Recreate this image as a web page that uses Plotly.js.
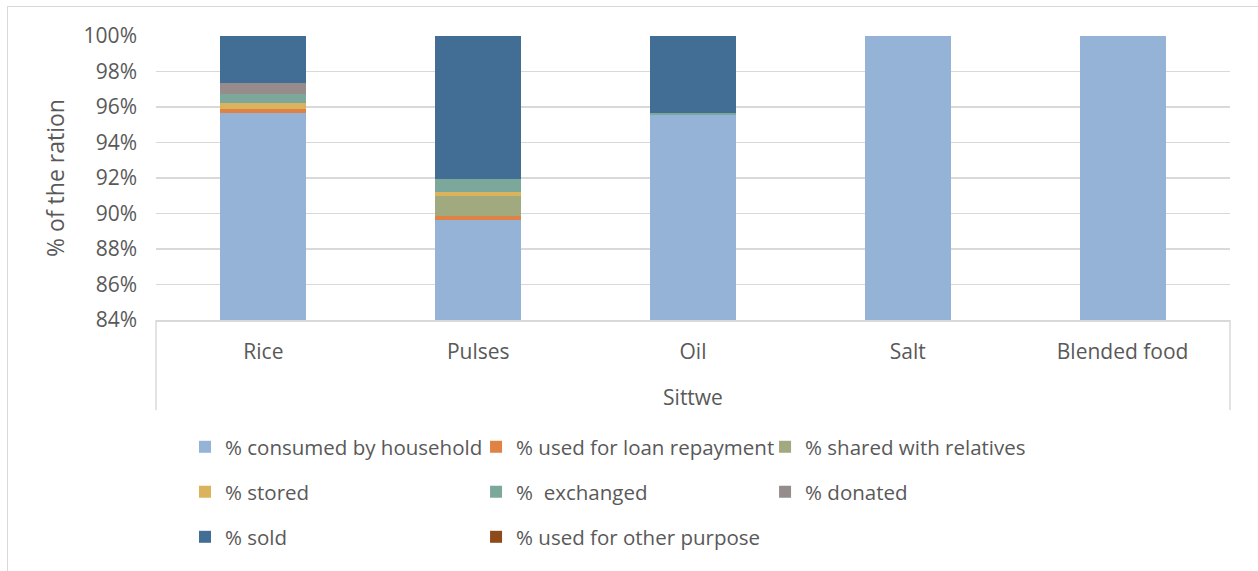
<!DOCTYPE html>
<html>
<head>
<meta charset="utf-8">
<script src="https://cdn.plot.ly/plotly-3.0.1.min.js"></script>
<style>
  html, body { margin: 0; padding: 0; background: #fff; }
  #frame { position: absolute; left: 7px; top: 6px; width: 1400px; height: 700px;
           border-left: 1.5px solid #d9d9d9; border-top: 1.5px solid #d9d9d9; pointer-events: none; }
  #chart { width: 1258px; height: 571px; }
</style>
</head>
<body>
<div id="chart"></div>
<div id="frame"></div>
<script>
// ---- data ----
const group = "Sittwe";
const categories = ["Rice", "Pulses", "Oil", "Salt", "Blended food"];

const seriesNames = [
  "% consumed by household",
  "% used for loan repayment",
  "% shared with relatives",
  "% stored",
  "%  exchanged",
  "% donated",
  "% sold",
  "% used for other purpose"
];

const consumed  = [95.68, 89.62, 95.53, 100, 100];
const loan      = [0.19, 0.24, 0, 0, 0];
const shared    = [0, 1.14, 0, 0, 0];
const stored    = [0.36, 0.21, 0, 0, 0];
const exchanged = [0.50, 0.73, 0.13, 0, 0];
const donated   = [0.61, 0, 0, 0, 0];
const sold      = [2.66, 8.06, 4.34, 0, 0];
const other     = [0, 0, 0, 0, 0];

const yTickVals = [84, 86, 88, 90, 92, 94, 96, 98, 100];

// ---- styles ----
const colors = ["#95B3D7", "#DF8244", "#A1A97F", "#DBB35C", "#7CA89C", "#968C8C", "#426E96", "#8E4A1B"];
const series = [consumed, loan, shared, stored, exchanged, donated, sold, other];

// legend grid: 3 columns x 3 rows, one legend per entry
const legendCols = [0.0270, 0.2980, 0.5671];
const legendRows = [-0.447, -0.605, -0.764];
const legendIds = series.map((_, i) => i === 0 ? "legend" : "legend" + (i + 1));

const traces = series.map((vals, i) => ({
  type: "bar",
  name: seriesNames[i],
  x: categories,
  y: vals,
  marker: { color: colors[i], line: { width: 0 } },
  legend: legendIds[i],
  hoverinfo: "name+y"
}));

const font = { family: "Open Sans, sans-serif", size: 21, color: "#595959" };
const legendFont = Object.assign({}, font, { size: 20.5 });
const lineColor = "#d9d9d9";

const layout = {
  width: 1258, height: 571,
  margin: { l: 156, r: 28, t: 36, b: 251 },
  paper_bgcolor: "#ffffff",
  plot_bgcolor: "#ffffff",
  font: font,
  barmode: "stack",
  bargap: 0.6,
  xaxis: {
    type: "category",
    showline: true, linecolor: lineColor, linewidth: 1.5,
    showgrid: false,
    tickfont: font,
    ticks: "",
    ticklabelstandoff: 12,
    title: { text: group, font: font, standoff: 26 }
  },
  yaxis: {
    range: [84, 100],
    tickvals: yTickVals,
    ticktext: yTickVals.map(v => v + "%"),
    showgrid: true, gridcolor: lineColor, gridwidth: 1.5,
    zeroline: false, showline: false,
    tickfont: font,
    ticklabelstandoff: 18,
    title: { text: "% of the ration", font: Object.assign({}, font, { size: 23 }), standoff: 12 }
  },
  shapes: [
    { type: "line", xref: "paper", yref: "paper", x0: 0, x1: 0, y0: 0, y1: -0.317,
      line: { color: lineColor, width: 1.5 } },
    { type: "line", xref: "paper", yref: "paper", x0: 1, x1: 1, y0: 0, y1: -0.317,
      line: { color: lineColor, width: 1.5 } }
  ],
  showlegend: true
};

legendIds.forEach((id, i) => {
  layout[id] = {
    orientation: "h",
    x: legendCols[i % 3], xanchor: "left",
    y: legendRows[Math.floor(i / 3)], yanchor: "middle",
    font: legendFont,
    bgcolor: "rgba(0,0,0,0)"
  };
});

Plotly.newPlot("chart", traces, layout, { displayModeBar: false, staticPlot: true });
</script>
</body>
</html>
